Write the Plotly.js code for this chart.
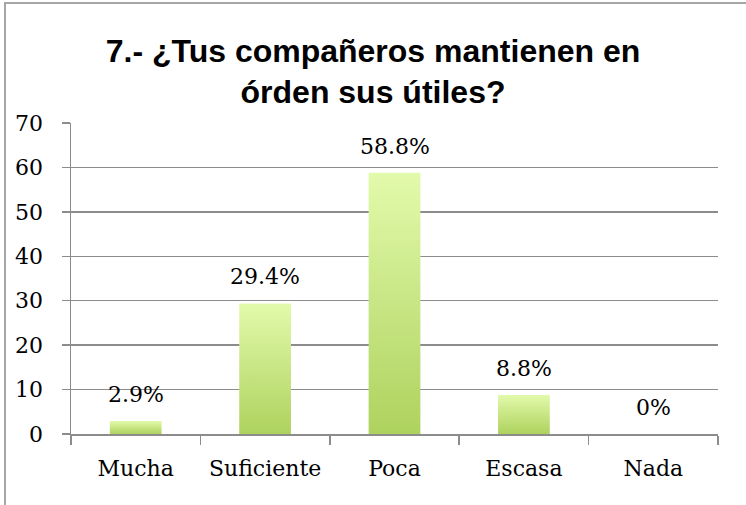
<!DOCTYPE html>
<html>
<head>
<meta charset="utf-8">
<script src="https://cdn.plot.ly/plotly-3.0.1.min.js"></script>
<style>
  html, body { margin: 0; padding: 0; background: #fff; }
  #chart { width: 746px; height: 505px; }
  #frame { position: absolute; left: 4px; top: 2px; width: 760px; height: 520px;
           border-left: 2px solid #a6a6a6; border-top: 2px solid #a6a6a6; pointer-events: none; }
</style>
</head>
<body>
<div id="chart"></div>
<div id="frame"></div>
<script>
const categories = ["Mucha", "Suficiente", "Poca", "Escasa", "Nada"];
const values = [2.9, 29.4, 58.8, 8.8, 0];
const labels = ["2.9%", "29.4%", "58.8%", "8.8%", "0%"];
const yTicks = [0, 10, 20, 30, 40, 50, 60, 70];

const serif = "DejaVu Serif, serif";

const trace = {
  type: "bar",
  x: categories,
  y: values,
  marker: { color: "#c8e888", line: { width: 0 } },
  hoverinfo: "skip"
};

const annotations = categories.map((c, i) => ({
  x: c, y: values[i], xref: "x", yref: "y",
  text: labels[i], showarrow: false,
  yanchor: "bottom", yshift: 12,
  font: { family: serif, size: 22, color: "#000" }
}));

const layout = {
  width: 746, height: 505,
  margin: { l: 71, r: 28, t: 123, b: 71, pad: 0 },
  paper_bgcolor: "#fff", plot_bgcolor: "#fff",
  showlegend: false,
  bargap: 0.6,
  title: {
    text: "7.- ¿Tus compañeros mantienen en<br>órden sus útiles?",
    font: { family: "Liberation Sans, Arial, sans-serif", size: 32, color: "#000", weight: "bold" },
    x: 0.5, xanchor: "center", y: 0.878, yanchor: "middle", yref: "container"
  },
  xaxis: {
    type: "category",
    tickson: "boundaries",
    ticks: "outside", ticklen: 9, tickcolor: "#8c8c8c", tickwidth: 1.5,
    showline: true, linecolor: "#8c8c8c", linewidth: 1.5,
    showgrid: false, zeroline: false,
    tickfont: { family: serif, size: 22, color: "#000" },
    ticklabelstandoff: 14
  },
  yaxis: {
    range: [0, 70],
    tickvals: yTicks,
    ticktext: yTicks.map(String),
    ticks: "outside", ticklen: 8, tickcolor: "#8c8c8c", tickwidth: 1.5,
    showline: true, linecolor: "#8c8c8c", linewidth: 1.5,
    showgrid: true, gridcolor: "#8c8c8c", gridwidth: 1.5,
    zeroline: false,
    tickfont: { family: serif, size: 22, color: "#000" },
    ticklabelstandoff: 14
  },
  annotations: annotations
};

Plotly.newPlot("chart", [trace], layout, { staticPlot: true, displayModeBar: false }).then(gd => {
  const svg = gd.querySelector("svg.main-svg");
  const ns = "http://www.w3.org/2000/svg";
  let defs = svg.querySelector("defs");
  if (!defs) { defs = document.createElementNS(ns, "defs"); svg.insertBefore(defs, svg.firstChild); }
  const grad = document.createElementNS(ns, "linearGradient");
  grad.setAttribute("id", "barGrad");
  grad.setAttribute("x1", "0"); grad.setAttribute("y1", "0");
  grad.setAttribute("x2", "0"); grad.setAttribute("y2", "1");
  [["0", "#e2faab"], ["1", "#aed25e"]].forEach(([o, c]) => {
    const s = document.createElementNS(ns, "stop");
    s.setAttribute("offset", o); s.setAttribute("stop-color", c);
    grad.appendChild(s);
  });
  defs.appendChild(grad);
  gd.querySelectorAll(".bars .point path").forEach(p => { p.style.fill = "url(#barGrad)"; });
});
</script>
</body>
</html>
